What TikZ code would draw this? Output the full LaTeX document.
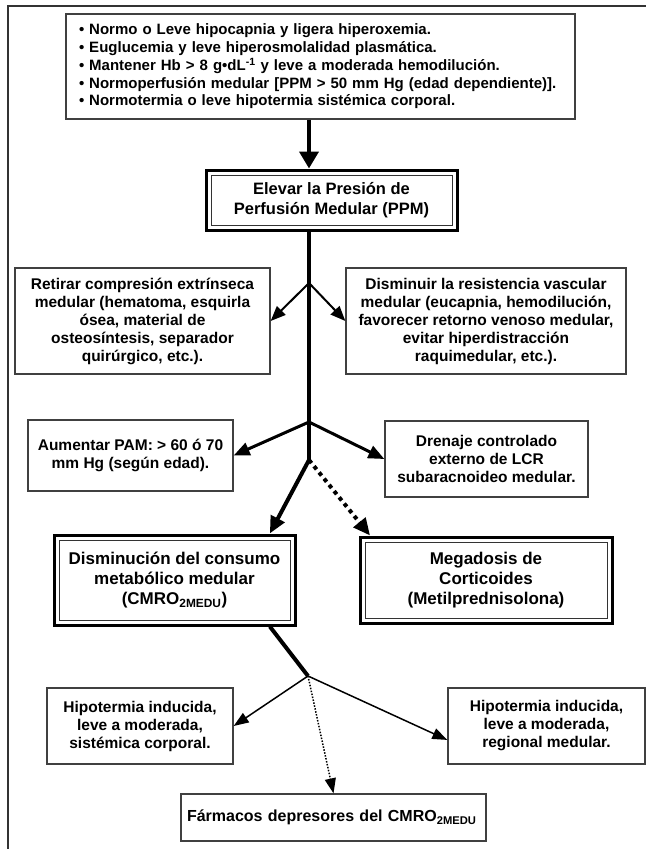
\documentclass[tikz,border=0pt]{standalone}
\usepackage{fontspec}
\setmainfont{Liberation Sans}
\usetikzlibrary{arrows.meta,positioning,fit}
\newcommand{\cmro}{CMRO\textsubscript{2MEDU}}

\begin{document}
\begin{tikzpicture}[x=1pt,y=-1pt,
  box/.style={draw=black!75, line width=1.3pt, inner sep=0pt, align=center,
    font=\fontsize{15.5}{18}\selectfont\bfseries},
  innerbox/.style={draw=black!80, line width=1pt, inner sep=0pt, align=center,
    font=\fontsize{17}{20}\selectfont\bfseries},
  outerbox/.style={draw=black, line width=3pt, inner sep=4.5pt},
  trunk/.style={line width=4pt},
  bigarrow/.style={line width=4pt, -{Triangle[length=17pt,width=19pt]}},
  armA/.style={line width=2pt, -{Triangle[length=15pt,width=12pt]}},
  armB/.style={line width=3pt, -{Triangle[length=16pt,width=13pt]}},
  trunkarrow/.style={line width=4pt, -{Triangle[length=17pt,width=15pt]}},
  thinarrow/.style={line width=1.5pt, -{Triangle[length=15pt,width=11pt]}}]
\useasboundingbox (0,0) rectangle (646,849);
% outer frame
\draw[black!80, line width=2pt] (8,849) -- (8,6) -- (646,6);

% boxes
\node[box, font=\fontsize{15}{17.8}\selectfont\bfseries, align=left, text width=483, inner xsep=13, minimum height=105] (top) at (320.5,66.5)
  {• Normo o Leve hipocapnia y ligera hiperoxemia.\\
   • Euglucemia y leve hiperosmolalidad plasmática.\\
   • Mantener Hb > 8 g•dL\textsuperscript{-1} y leve a moderada hemodilución.\\
   • Normoperfusión medular [PPM > 50 mm Hg (edad dependiente)].\\
   • Normotermia o leve hipotermia sistémica corporal.};
\node[innerbox, font=\fontsize{16.5}{20}\selectfont\bfseries, minimum width=241, minimum height=50] (ppm) at (331.5,200)
  {Elevar la Presión de\\Perfusión Medular (PPM)};
\node[outerbox, fit=(ppm)] (ppmF) {};

\node[box, minimum width=255, minimum height=106] (retirar) at (142.5,321)
  {Retirar compresión extrínseca\\medular (hematoma, esquirla\\ósea, material de\\osteosíntesis, separador\\quirúrgico, etc.).};
\node[box, minimum width=280, minimum height=106] (disminuir) at (486,321)
  {Disminuir la resistencia vascular\\medular (eucapnia, hemodilución,\\favorecer retorno venoso medular,\\evitar hiperdistracción\\raquimedular, etc.).};
\node[box, minimum width=205, minimum height=71] (aumentar) at (130.5,455.5)
  {Aumentar PAM: > 60 ó 70\\mm Hg (según edad).};
\node[box, minimum width=203, minimum height=76] (drenaje) at (486.5,459)
  {Drenaje controlado\\externo de LCR\\subaracnoideo medular.};

\node[innerbox, minimum width=231, minimum height=80] (consumo) at (174.5,580)
  {Disminución del consumo\\metabólico medular\\(\cmro)};
\node[outerbox, fit=(consumo)] (consumoF) {};
\node[innerbox, minimum width=242, minimum height=76] (megadosis) at (486,580)
  {Megadosis de\\Corticoides\\(Metilprednisolona)};
\node[outerbox, fit=(megadosis)] (megadosisF) {};

\node[box, minimum width=186, minimum height=76] (sistemica) at (140,726)
  {Hipotermia inducida,\\leve a moderada,\\sistémica corporal.};
\node[box, minimum width=197, minimum height=76] (regional) at (546.5,726)
  {Hipotermia inducida,\\leve a moderada,\\regional medular.};
\node[box, font=\fontsize{16}{18}\selectfont\bfseries, align=left, text width=293, inner xsep=6, minimum height=47] (farmacos) at (333.5,817.5)
  {Fármacos depresores del \cmro};

% branch points
\coordinate (b1) at (309,283);
\coordinate (b2) at (309,422);
\coordinate (b3) at (309,460);
\coordinate (b4) at (308,676);

% connectors
\draw[bigarrow] (top.south -| b1) -- (ppmF.north -| b1);
\draw[trunk] (ppmF.south -| b1) -- (b3);
\draw[armA] (b1) -- (retirar.east);
\draw[armA] (b1) -- (disminuir.west);
\draw[armB] (b2) -- (aumentar.east);
\draw[armB] (b2) -- (drenaje.west);
\draw[trunkarrow] (b3) -- (consumoF.26);
\draw[trunkarrow, dash pattern=on 4pt off 4pt] (b3) -- (megadosisF.159);
\draw[trunk] (consumoF.-26) -- (b4);
\draw[thinarrow] (b4) -- (sistemica.east);
\draw[thinarrow] (b4) -- (regional.188);
\draw[thinarrow, dash pattern=on 1.5pt off 1.5pt] (b4) -- (farmacos.north);
\end{tikzpicture}
\end{document}
